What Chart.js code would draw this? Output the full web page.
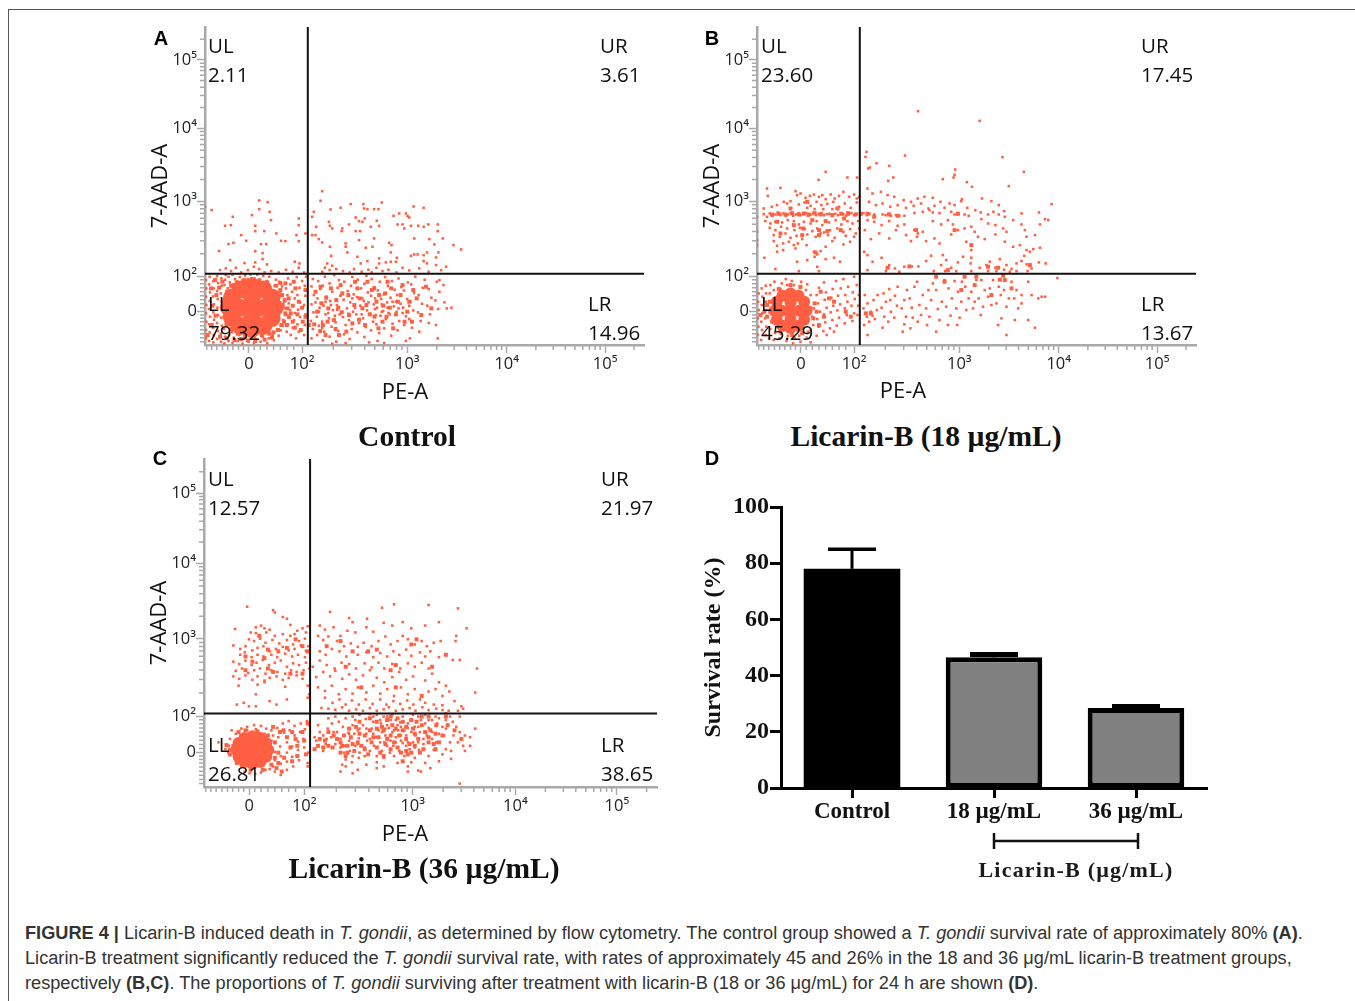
<!DOCTYPE html>
<html>
<head>
<meta charset="utf-8">
<script src="https://cdn.jsdelivr.net/npm/chart.js@4/dist/chart.umd.min.js"></script>
<style>
  html, body { margin: 0; padding: 0; background: #fff; width: 1355px; height: 1001px; overflow: hidden; }
  canvas { position: absolute; }
  .frame { position: absolute; left: 8px; top: 9px; width: 1347px; height: 992px; border-left: 1px solid #555; border-top: 1px solid #555; box-sizing: border-box; }
  .t { position: absolute; white-space: nowrap; transform: translate(-50%, -50%); color: #111; }
  .letter { font: bold 20px "Liberation Sans"; color: #000; }
  .title { font: bold 29.5px "Liberation Serif"; }
  .sub { font: bold 22px "Liberation Serif"; letter-spacing: 1.2px; color: #1a1a1a; }
  .cap { position: absolute; left: 25px; white-space: nowrap; font: 18.18px "Liberation Sans"; color: #333; line-height: 24px; }
</style>
</head>
<body>
<div class="frame"></div>
<canvas id="panelA" style="left:140px;top:15px;width:513px;height:395px"></canvas>
<canvas id="panelB" style="left:692px;top:15px;width:512px;height:395px"></canvas>
<canvas id="panelC" style="left:139px;top:447px;width:526px;height:405px"></canvas>
<canvas id="panelD" style="left:690px;top:490px;width:530px;height:375px"></canvas>

<div class="t letter" style="left:161px;top:38px">A</div>
<div class="t letter" style="left:712px;top:38px">B</div>
<div class="t letter" style="left:160px;top:458px">C</div>
<div class="t letter" style="left:712px;top:458px">D</div>
<div class="t title" style="left:407px;top:436px">Control</div>
<div class="t title" style="left:926px;top:436px">Licarin-B (18 µg/mL)</div>
<div class="t title" style="left:424px;top:868px">Licarin-B (36 µg/mL)</div>
<div class="t sub" style="left:1076px;top:870px">Licarin-B (µg/mL)</div>

<div class="cap" style="top:921px"><b>FIGURE 4 |</b> Licarin-B induced death in <i>T. gondii</i>, as determined by flow cytometry. The control group showed a <i>T. gondii</i> survival rate of approximately 80% <b>(A)</b>.</div>
<div class="cap" style="top:946px">Licarin-B treatment significantly reduced the <i>T. gondii</i> survival rate, with rates of approximately 45 and 26% in the 18 and 36 μg/mL licarin-B treatment groups,</div>
<div class="cap" style="top:971px">respectively <b>(B,C)</b>. The proportions of <i>T. gondii</i> surviving after treatment with licarin-B (18 or 36 μg/mL) for 24 h are shown <b>(D)</b>.</div>

<script>
// axis positions are in instrument channels, the biexponential axes are not log or linear in value
const xTickPos = [131, 290, 604, 901, 1195];
const yTickPos = [101, 206, 431, 651, 856];
const logTickLabels = ['0', '10²', '10³', '10⁴', '10⁵'];
const xMinorPos = [5,20,35,52,68,83,100,115,147,165,185,205,225,245,265,383,438,477,507,532,553,572,588,692,744,781,810,834,854,871,886,988,1040,1076,1105,1128,1148,1165,1180,1281];
const yMinorPos = [10,22,34,46,58,70,80,90,112,124,136,148,160,172,184,196,274,313,341,363,381,396,409,421,497,536,563,585,602,617,630,641,713,749,774,794,810,824,836,846,918];

const quadNames = ['UL', 'UR', 'LL', 'LR'];
const valuesA = ['2.11', '3.61', '79.32', '14.96'];
const valuesB = ['23.60', '17.45', '45.29', '13.67'];
const valuesC = ['12.57', '21.97', '26.81', '38.65'];

// events as flat x,y channel pairs
// core = solid area, clumps = small packed groups, events = single dots
const coreA = [208,112, 199,143, 174,167, 140,175, 106,167, 81,143, 72,112, 81,81, 106,57, 140,49, 174,57, 199,81, 140,112, 105,112, 175,112, 140,80, 140,145];
const clumpsA = [
  232,120, 240,95, 236,70, 228,60, 218,45, 205,38, 230,150, 238,135, 225,165, 212,178, 246,110, 250,85, 244,60, 256,95, 262,70, 262,118, 250,140, 64,60, 58,85, 54,110, 58,135, 66,160, 78,178, 95,188, 118,195, 140,198, 162,194, 186,188, 78,48, 98,34, 120,28, 145,25, 170,30, 192,34, 20,60, 32,88, 22,118, 34,150, 42,172, 268,52, 276,92, 280,130, 290,112, 292,70,
  335,100, 352,60, 362,142, 385,75, 398,112, 428,150, 460,76, 470,110, 492,92, 512,130, 530,70, 538,155, 552,112, 570,92, 584,150, 596,70, 610,130, 622,165, 505,170, 455,170, 345,175, 405,180, 545,190, 485,190,
  326,62, 330,160, 344,42, 348,125, 366,70, 368,110, 376,170, 390,48, 392,135, 408,98, 410,155, 422,40, 430,90, 446,120, 448,190, 462,140, 478,60, 482,120, 498,165, 506,85, 518,50, 520,150, 532,118, 542,85, 556,170, 562,50, 576,130, 590,180, 604,100, 618,70, 632,140, 646,90, 660,175, 676,110, 440,65, 400,30, 360,30, 300,165, 310,60,
  8,30, 18,170, 30,195, 45,25, 52,190, 65,20, 88,14, 108,18, 128,14, 150,12, 178,16, 200,22, 225,186, 240,185, 270,170, 286,45, 300,85, 265,190
];
const eventsA = [
  // upper quadrants
  0,415, 20,405, 162,434, 162,408, 187,429, 193,400, 197,375, 140,390, 83,385, 60,358, 77,360, 150,358, 150,342, 177,342, 213,335, 108,330, 123,313, 227,313, 240,312, 70,303, 85,307, 167,303, 183,303, 42,282, 150,282, 172,276, 280,380, 280,360, 273,330, 300,335, 280,312,
  350,462, 345,433, 325,400, 320,385, 375,407, 405,412, 435,423, 473,423, 475,410, 485,408, 505,408, 518,408, 528,428, 623,416, 653,412, 580,395, 563,388, 600,395, 605,387, 610,383, 450,383, 460,372, 470,370, 477,380, 495,355, 520,358, 513,373, 332,355, 370,370, 373,358, 380,350, 410,350, 430,362, 408,342, 450,342, 463,342, 575,362, 590,362, 595,350, 615,358, 637,358, 653,355, 667,362, 695,362, 695,342, 625,320, 670,318, 710,320, 685,302, 742,300, 765,287, 697,278,
  330,330, 320,330, 340,318, 350,308, 373,295, 420,305, 420,295, 460,315, 505,320, 550,307, 557,300, 480,292, 500,295, 425,278, 555,278, 625,272, 635,272, 615,268, 663,278, 653,270, 377,268, 455,265, 520,260, 573,262, 690,263, 653,252, 663,245, 690,240, 720,235, 705,225, 570,250, 520,245, 540,248, 555,250, 485,252, 465,245, 365,245, 380,238, 350,220, 358,232, 372,225, 392,228, 412,222, 432,218, 445,228, 468,220, 488,226, 498,218, 512,232, 530,222, 548,226, 572,218, 590,232, 610,224, 640,230, 668,220,
  45,225, 62,230, 78,222, 92,232, 108,218, 128,225, 146,235, 162,228, 178,218, 198,222, 220,218, 242,226, 262,220, 280,232, 296,218, 150,248, 172,258, 185,242, 268,250, 282,245, 75,255, 118,246,
  // lower left, around the solid core
  3,20, 3,45, 4,70, 3,95, 4,120, 3,145, 4,170, 3,195, 12,12, 14,38, 12,62, 15,85, 12,108, 14,132, 15,158, 12,182, 14,205, 25,8, 26,30, 24,52, 27,76, 25,98, 27,122, 24,146, 26,170, 25,192, 36,18, 38,42, 36,66, 39,90, 37,112, 38,138, 36,162, 39,186, 36,207, 48,10, 47,34, 50,58, 48,82, 50,130, 47,155, 50,178, 49,200, 58,5, 60,25, 56,48, 58,180, 60,196, 62,210, 70,12, 72,30, 68,170, 74,188, 70,205, 82,6, 86,22, 80,38, 84,182, 90,198, 82,211, 98,12, 102,30, 96,190, 104,204, 112,4, 118,20, 112,195, 120,209, 130,10, 134,26, 128,198, 136,212, 146,6, 152,18, 148,200, 156,211, 166,10, 172,24, 164,196, 174,208, 186,5, 190,20, 184,192, 192,205, 206,14, 202,30, 208,178, 212,196, 220,28, 226,44, 232,58, 224,160, 230,176, 222,190, 234,75, 240,90, 238,110, 236,130, 232,148, 244,40, 248,62, 252,82, 254,105, 250,125, 246,150, 242,170, 256,30, 262,52, 266,74, 268,96, 262,118, 268,140, 260,160, 255,182, 248,200, 272,20, 280,40, 276,62, 284,84, 278,106, 284,128, 276,150, 282,172, 290,192, 274,204, 296,30, 298,60, 300,92, 296,120, 300,148, 298,178, 302,205,
  // lower right
  318,20, 322,48, 316,72, 324,98, 318,122, 325,150, 318,176, 322,198, 335,30, 340,58, 334,85, 342,112, 336,140, 344,168, 338,192, 352,14, 356,40, 350,70, 360,92, 354,118, 362,145, 352,178, 358,205, 372,25, 378,55, 370,80, 382,105, 374,132, 380,160, 372,185, 386,210, 392,10, 398,42, 390,68, 402,92, 394,120, 404,148, 396,172, 400,195, 415,32, 420,60, 412,84, 424,110, 414,136, 426,162, 416,190, 432,18, 438,48, 430,75, 442,100, 434,128, 444,152, 436,178, 440,204, 455,38, 460,66, 452,92, 464,118, 454,144, 466,170, 456,196, 476,24, 480,54, 472,80, 484,104, 474,132, 486,158, 476,184, 482,208,
  496,44, 502,70, 494,94, 504,122, 496,148, 506,174, 498,198, 515,12, 520,36, 512,62, 524,88, 514,112, 526,138, 516,164, 522,190, 535,50, 540,78, 532,102, 544,128, 534,152, 546,178, 538,204, 556,28, 560,64, 552,92, 564,116, 554,142, 566,166, 558,192, 575,44, 580,72, 572,100, 584,124, 574,150, 586,174, 578,200, 595,60, 600,86, 592,112, 604,138, 594,164, 606,188, 612,20, 618,52, 610,78, 622,104, 614,130, 624,156, 616,182, 628,205, 640,40, 644,72, 636,98, 648,124, 638,150, 650,172, 656,196, 668,66, 672,92, 664,118, 676,142, 668,168, 690,60, 696,108, 688,134, 700,160, 692,190, 715,128, 722,110, 700,195, 712,180, 736,112, 695,20, 490,8, 600,12, 420,6, 380,4, 535,6,
  340,100, 346,126, 368,96, 388,88, 410,100, 428,94, 448,112, 468,92, 488,128, 508,108, 528,122, 548,96, 570,130, 590,96, 610,118, 508,140, 528,100, 470,140, 510,90, 522,150, 545,112, 560,130, 578,110, 440,140, 360,130, 330,128, 350,52, 376,120, 395,106
];

const coreB = [148,103, 141,130, 124,148, 100,155, 76,148, 59,130, 52,103, 59,76, 76,58, 100,51, 124,58, 141,76, 100,103, 75,103, 125,103, 100,78, 100,128];
const clumpsB = [
  45,392, 65,394, 85,392, 105,396, 125,392, 140,395, 155,392, 172,396, 190,392, 225,390, 252,394, 272,396, 295,392, 310,394, 330,394, 395,392, 420,388, 600,394, 138,350, 185,345, 210,342, 185,330, 135,330, 175,278, 390,232, 455,236, 570,225, 690,235, 720,232, 815,240, 735,208, 620,205, 725,196, 740,195, 655,205,
  160,110, 168,80, 172,125, 40,100, 45,70, 38,130, 70,40, 105,30, 135,35, 65,168, 100,180, 130,175, 178,100, 185,60, 200,85, 215,140, 265,100, 280,85, 325,95, 340,95, 30,85, 30,120, 22,100,
  60,370, 110,360, 165,375, 205,372, 240,410, 260,380, 70,335, 250,345, 100,410, 150,430, 475,345, 590,345, 640,300, 350,385, 535,205, 560,190, 610,165, 650,180, 700,150, 760,170, 190,160, 230,130, 10,90
];
const eventsB = [
  // sparse top
  481,702, 665,673, 327,580, 324,565, 442,569, 733,564, 797,520, 357,546, 337,533, 332,530, 395,538, 592,527, 590,511, 205,520, 184,496, 270,503, 299,503, 407,503, 392,493, 555,498, 587,503, 627,489, 642,475, 752,477, 880,423, 897,201,
  // band at about 7e2
  20,393, 30,385, 38,395, 46,388, 55,392, 62,398, 70,390, 78,395, 86,388, 92,392, 100,396, 108,388, 116,392, 124,396, 130,390, 138,393, 146,396, 152,388, 160,392, 168,396, 176,390, 184,394, 192,396, 200,390, 208,393, 216,394, 225,392, 234,394, 242,390, 250,396, 258,393, 266,388, 274,392, 282,396, 290,390, 298,394, 308,392, 318,396, 328,390, 336,394, 350,392, 375,392, 384,390, 392,394, 400,388, 415,390, 425,388, 440,388, 470,396, 495,400, 515,405, 525,398, 545,396, 580,400, 590,392, 600,396, 620,392, 632,388,
  // upper left cloud
  30,470, 32,448, 70,472, 115,462, 120,450, 130,455, 145,442, 158,448, 170,452, 185,445, 195,450, 205,438, 220,452, 232,440, 245,448, 258,460, 275,445, 290,452, 298,440, 305,445, 100,432, 90,425, 80,430, 60,420, 125,422, 142,428, 160,418, 178,430, 192,420, 210,424, 228,430, 245,415, 262,425, 280,412, 298,428, 20,410, 44,415, 150,412, 172,408, 198,408, 225,408,
  0,385, 25,372, 40,365, 55,370, 75,368, 92,375, 110,372, 125,362, 140,370, 160,365, 178,372, 195,360, 215,368, 235,375, 252,362, 270,372, 285,365, 302,372,
  38,352, 55,345, 72,355, 90,350, 112,345, 128,352, 142,348, 165,342, 180,350, 200,338, 218,345, 240,350, 258,340, 278,348, 295,335, 305,350, 50,330, 68,325, 85,335, 100,322, 118,328, 135,318, 150,332, 175,325, 190,335, 212,330, 232,322, 265,328, 290,325,
  50,312, 60,298, 78,305, 95,310, 110,300, 122,305, 170,280, 180,272, 190,282, 172,265, 60,280, 78,285, 115,290, 148,300, 205,295, 225,312, 258,302, 278,310, 120,250, 150,255, 180,235, 205,258, 230,262, 248,250, 55,228, 125,222, 185,222, 0,315, 0,340, 0,300, 22,262,
  // upper right
  330,470, 345,455, 370,460, 390,450, 410,445, 438,435, 460,430, 480,440, 500,445, 525,442, 548,430, 575,425, 612,438, 335,430, 355,420, 375,425, 398,415, 420,420, 445,412, 468,418, 490,425, 512,410, 530,418, 560,412, 590,420, 610,432, 628,412, 672,440, 700,432, 722,420, 738,402, 652,405, 668,398, 690,392, 706,400, 722,392, 740,385, 790,395, 842,398, 870,375,
  330,375, 350,370, 372,360, 395,372, 420,358, 440,362, 470,345, 480,335, 495,340, 525,372, 550,362, 570,375, 585,362, 600,345, 620,350, 640,355, 650,340, 670,378, 690,365, 712,360, 735,350, 745,340, 765,375, 790,362, 800,345, 805,325, 322,345, 340,318, 365,335, 395,320, 415,345, 445,330, 460,312, 478,325, 505,312, 530,320, 545,305, 580,332, 625,310, 640,300, 660,325, 680,318, 712,332, 740,310, 765,295, 785,300, 805,285, 830,330, 845,362, 860,378, 825,288, 845,292,
  320,280, 330,270, 345,250, 372,262, 395,240, 412,230, 440,235, 462,236, 482,236, 505,252, 520,268, 555,270, 565,255, 550,240, 580,232, 600,248, 615,265, 640,285, 640,262, 638,245, 665,232, 685,240, 695,250, 712,232, 725,258, 745,240, 760,228, 775,245, 790,252, 805,242, 820,230, 842,248, 862,245, 815,280, 798,268, 330,225, 385,222, 425,220, 528,222, 562,222, 595,222, 640,222, 690,222, 715,222, 738,226, 755,220, 775,222, 808,222,
  // lower left
  2,30, 4,55, 2,80, 5,105, 3,130, 5,155, 12,15, 15,45, 13,70, 16,95, 14,120, 16,145, 14,170, 26,30, 28,55, 24,80, 28,105, 26,130, 27,155, 26,178, 36,20, 40,48, 38,155, 40,180, 50,15, 54,36, 50,165, 52,190, 68,20, 72,34, 70,168, 74,185, 88,12, 92,28, 90,180, 86,198, 108,5, 112,22, 110,180, 104,192, 130,10, 126,28, 128,172, 132,190, 148,22, 152,40, 146,165, 150,182, 160,45, 168,60, 165,85, 170,110, 160,150, 178,28, 184,55, 180,78, 188,100, 182,125, 178,150, 185,172, 198,42, 204,68, 200,92, 208,112, 202,136, 206,158, 200,188, 218,50, 225,75, 220,98, 228,118, 222,142, 226,168, 238,58, 245,82, 240,104, 248,122, 242,148, 250,170, 236,192, 262,65, 268,90, 262,110, 270,130, 264,150, 272,175, 258,198, 285,72, 290,95, 282,118, 292,138, 286,158, 298,180, 290,205, 300,90, 302,118, 304,150, 208,30, 230,40, 160,8,
  // lower right
  320,60, 328,85, 318,110, 330,125, 322,150, 335,70, 345,88, 340,100, 352,78, 358,105, 348,135, 360,150, 330,30, 375,52, 380,85, 372,112, 385,130, 378,155, 392,70, 400,100, 398,135, 395,168, 410,82, 418,118, 412,148, 420,175, 435,40, 440,62, 445,85, 432,110, 440,135, 448,165, 458,50, 465,82, 462,112, 456,140, 470,175, 480,70, 490,90, 485,120, 495,150, 478,190, 508,60, 515,85, 505,110, 520,135, 512,165, 525,185, 535,40, 545,75, 540,108, 552,130, 535,165, 560,195, 570,60, 578,88, 565,115, 582,140, 572,170, 590,192, 598,60, 605,82, 595,110, 610,130, 600,160, 612,190, 625,105, 632,140, 622,175, 645,110, 650,130, 640,160, 655,195, 668,90, 675,115, 662,140, 680,165, 670,195, 690,145, 700,120, 695,170, 705,195, 720,60, 730,80, 715,125, 728,150, 722,175, 745,115, 752,140, 738,165, 760,190, 770,75, 780,110, 768,140, 790,125, 775,165, 745,30, 830,52, 810,75, 840,140, 790,150, 820,150, 850,145, 860,145, 810,190
];

const coreC = [186,108, 180,128, 163,143, 140,148, 117,143, 100,128, 94,108, 100,88, 117,73, 140,68, 163,73, 180,88, 140,108, 115,108, 165,108, 140,88, 140,128, 120,90, 160,90, 120,126, 160,126];
const clumpsC = [
  330,120, 350,135, 372,115, 395,100, 395,130, 415,120, 435,105, 425,145, 445,130, 465,110, 485,130, 465,150, 500,115, 505,145, 480,165, 525,125, 520,165, 540,150, 545,180, 560,115, 565,150, 585,140, 585,175, 600,195, 610,120, 610,155, 630,180, 630,205, 650,130, 655,165, 650,205, 672,180, 690,150, 700,205, 560,200, 540,205, 500,190, 440,175, 410,90, 375,150, 520,90, 590,95, 625,100, 670,110, 575,75,
  230,165, 265,140, 285,160, 215,100, 250,115, 215,70, 255,75, 85,120, 75,108, 65,122, 200,175, 300,185, 225,45,
  120,380, 175,375, 185,400, 240,405, 285,410, 300,395, 120,340, 185,345, 250,330, 355,410, 430,395, 475,395, 555,355, 615,430, 700,385, 455,290, 555,290, 630,265,
  320,110, 335,140, 345,115, 360,120, 385,140, 405,150, 415,100, 430,125, 450,155, 455,120, 475,95, 490,145, 510,100, 515,175, 530,140, 550,130, 555,170, 570,100, 575,165, 595,125, 605,170, 620,140, 635,110, 640,160, 665,125, 670,155, 680,130, 705,180, 725,165, 745,140, 530,195, 575,190, 615,190, 480,200, 450,190, 420,170, 400,120, 360,160, 500,170, 540,110, 585,105, 650,145, 600,100,
  205,130, 220,160, 240,145, 255,160, 270,120, 290,135, 205,85, 232,85, 270,90, 295,95, 210,55, 100,160, 120,165, 155,162, 185,150, 75,95, 95,70, 135,50, 170,50, 195,65,
  160,440, 215,395, 265,430, 140,365, 200,335, 285,330, 395,425, 500,400, 540,340, 600,415, 660,350, 410,350
];
const eventsC = [
  // upper left group
  125,525, 200,515, 228,495, 205,508, 240,490, 90,460, 150,465, 165,470, 175,462, 190,458, 250,472, 285,462, 300,468, 295,450, 270,455, 135,450, 150,448, 180,450, 205,440, 228,445, 250,440, 262,445, 85,412, 130,430, 145,425, 162,432, 178,420, 198,428, 218,418, 240,428, 258,415, 275,425, 292,432, 302,410, 105,402, 120,410, 140,398, 155,405, 172,410, 190,395, 208,402, 228,408, 245,398, 262,402, 280,412, 295,396, 105,385, 118,392, 138,378, 155,385, 172,380, 195,385, 212,378, 235,388, 255,380, 272,385, 292,378, 85,365, 102,358, 120,368, 138,355, 152,362, 170,370, 188,355, 205,362, 222,368, 240,350, 258,360, 275,355, 295,362, 305,345,
  92,338, 110,345, 128,332, 145,340, 162,345, 178,330, 195,340, 212,335, 235,330, 252,340, 268,335, 288,340, 85,322, 102,315, 120,325, 140,312, 155,322, 175,310, 190,318, 210,322, 228,312, 245,318, 268,325, 285,315, 100,295, 155,298, 175,305, 235,292, 95,240, 150,270, 300,295, 305,270, 300,260, 240,255, 190,250, 210,240, 115,245, 130,235, 150,235,
  // upper right group
  365,510, 420,492, 430,480, 472,490, 515,522, 550,532, 650,530, 735,520, 335,470, 350,458, 375,465, 395,440, 415,455, 438,450, 470,465, 490,452, 520,478, 545,470, 575,480, 600,462, 640,470, 680,480, 760,462, 730,440, 728,425, 330,440, 345,428, 360,438, 385,425, 405,410, 425,418, 445,408, 462,420, 485,410, 505,425, 525,438, 540,415, 560,425, 575,440, 590,430, 610,415, 630,425, 645,410, 665,420, 685,425, 335,395, 352,385, 370,402, 392,395, 412,380, 430,395, 445,385, 470,392, 490,378, 510,390, 530,380, 548,395, 565,385, 585,400, 600,382, 625,392, 640,380, 655,395, 680,378, 720,370, 740,370, 790,345, 315,350, 335,368, 355,355, 378,345, 398,362, 420,358, 440,345, 465,360, 485,348, 505,362, 522,345, 545,358, 568,345, 590,360, 610,350, 630,362, 650,345,
  325,320, 345,335, 365,322, 380,338, 400,315, 420,328, 440,312, 460,325, 480,340, 500,318, 522,305, 545,320, 565,335, 585,312, 605,322, 640,310, 660,330, 680,305, 700,295, 330,290, 350,280, 370,295, 390,270, 410,285, 430,272, 445,290, 470,275, 490,295, 510,272, 530,285, 550,265, 570,290, 590,270, 610,285, 630,265, 650,278, 670,285, 690,265, 710,278, 785,275, 350,260, 372,245, 392,255, 410,240, 428,252, 448,240, 468,255, 488,242, 510,255, 528,240, 548,250, 568,242, 588,252, 606,240, 625,255, 640,245, 665,240, 690,238, 725,250, 750,228, 735,222,
  340,230, 360,228, 380,225, 400,232, 420,222, 440,226, 460,222, 480,230, 500,222, 520,226, 535,232, 555,222, 575,226, 595,230, 612,222, 632,232, 650,224, 672,228, 690,224, 708,222,
  // lower left
  42,130, 62,110, 80,165, 92,155, 98,135, 82,112, 90,90, 95,68, 108,60, 118,45, 132,40, 148,38, 165,42, 178,50, 190,52, 205,45, 222,35, 108,170, 125,175, 145,180, 165,178, 180,170, 195,165, 212,172, 228,185, 245,192, 262,178, 280,185, 298,192, 200,150, 215,145, 232,158, 248,165, 262,150, 278,160, 292,168, 305,180, 205,128, 220,118, 240,130, 255,118, 272,132, 288,140, 205,102, 222,90, 240,100, 255,88, 272,108, 290,115, 302,100, 205,78, 222,68, 240,74, 258,60, 275,78, 300,70, 300,60, 200,60, 240,50, 105,150, 75,140, 72,120, 125,165, 150,168, 175,155, 190,85, 190,115, 195,135, 70,100,
  // lower right, dense
  320,145, 335,160, 325,135, 345,150, 358,170, 370,185, 352,125, 368,145, 385,160, 380,125, 395,140, 402,175, 390,190, 408,120, 420,135, 418,158, 430,180, 438,195, 405,100, 422,105, 438,120, 448,142, 445,165, 460,180, 468,198, 450,100, 465,115, 472,135, 470,155, 485,170, 490,190, 410,80, 428,72, 448,85, 465,90, 480,105, 492,120, 498,145, 505,165, 512,185, 520,205, 500,90, 515,105, 522,130, 525,150, 535,172, 540,195, 545,210, 520,85, 538,100, 548,120, 555,145, 562,165, 568,188, 575,205, 550,90, 565,105, 575,128, 585,150, 590,172, 598,195, 605,210, 580,90, 595,110, 605,130, 612,150, 620,175, 628,195, 640,210, 610,85, 622,108, 635,125, 645,150, 650,172, 660,195, 670,205, 650,90, 665,108, 672,130, 680,155, 690,175, 700,195, 712,205, 700,110, 712,130, 722,150, 730,175, 680,75, 640,70, 600,72, 560,70, 500,72, 470,65, 430,90, 445,50, 500,55, 520,60, 410,60, 400,65, 345,105, 330,180, 360,200, 380,205, 410,200, 430,205, 450,210, 480,212, 500,210, 530,180, 550,165, 570,150, 590,130, 610,115, 625,160, 640,185, 660,160, 675,185, 695,150, 660,140, 540,135, 510,130, 480,140, 445,125, 420,155, 395,115, 375,160, 355,140,
  515,160, 525,170, 545,160, 560,180, 580,165, 600,160, 620,130, 635,140, 585,120, 570,135, 555,130, 530,120, 490,155, 470,170, 450,170, 435,155, 610,175, 590,185, 570,175, 555,195, 530,205, 510,195, 490,205, 620,205, 650,195, 680,200, 700,170, 720,190, 740,160, 755,150, 770,145, 750,120, 735,130, 785,170, 755,105, 770,120, 715,105, 690,95, 715,82, 740,205, 700,215, 745,235, 395,45, 430,40, 590,45, 590,60, 620,48, 655,55, 740,10, 628,45
];

const survivalLabels = ['Control', '18 µg/mL', '36 µg/mL'];
const survivalRate = [78, 46.5, 28.5];
const survivalErrTop = [85, 47.5, 29];
const survivalTicks = [0, 20, 40, 60, 80, 100];

const quadX = 307, quadY = 214;
const axisGrey = '#a9a9a9', dotColor = '#ff5f42';
const sansFont = "'Open Sans'";

function pairs(flat) {
  const out = [];
  for (let i = 0; i < flat.length; i += 2) out.push({ x: flat[i], y: flat[i + 1] });
  return out;
}

// long ticks come from the scale, the small ones between decades from here
const minorTicks = {
  id: 'minorTicks',
  afterDraw(chart) {
    const { ctx, chartArea: a, scales: { x, y } } = chart;
    ctx.save();
    ctx.strokeStyle = axisGrey;
    ctx.lineWidth = 1.5;
    ctx.beginPath();
    xMinorPos.forEach(v => { const p = x.getPixelForValue(v); ctx.moveTo(p, a.bottom); ctx.lineTo(p, a.bottom + 5); });
    yMinorPos.forEach(v => { const p = y.getPixelForValue(v); ctx.moveTo(a.left, p); ctx.lineTo(a.left - 5, p); });
    ctx.stroke();
    ctx.restore();
  }
};

// quadrant names and percentages plus the x axis title
const panelText = {
  id: 'panelText',
  afterDatasetsDraw(chart, args, o) {
    const { ctx, chartArea: a } = chart;
    ctx.save();
    ctx.fillStyle = '#111';
    ctx.font = "20.5px " + sansFont;
    ctx.textBaseline = 'middle';
    o.values.forEach((val, i) => {
      const px = a.left + o.xs[i];
      ctx.fillText(quadNames[i], px, a.top + o.ys[i]);
      ctx.fillText(val, px, a.top + o.ys[i] + o.gap);
    });
    ctx.textAlign = 'center';
    ctx.font = "22px " + sansFont;
    ctx.fillText('PE-A', a.left + o.titleX, a.bottom + o.titleDrop);
    ctx.restore();
  }
};

function flowPanel(id, core, clumps, events, values, textPos, coreRadius, size) {
  const canvas = document.getElementById(id);
  canvas.width = size[0]; canvas.height = size[1];
  new Chart(canvas, {
    type: 'scatter',
    data: {
      datasets: [
        { data: [{ x: quadX, y: 0 }, { x: quadX, y: 955 }], showLine: true, borderColor: '#111', borderWidth: 2, pointRadius: 0, order: 0 },
        { data: [{ x: 0, y: quadY }, { x: 1311, y: quadY }], showLine: true, borderColor: '#111', borderWidth: 2, pointRadius: 0, order: 0 },
        { data: pairs(events), pointStyle: 'rect', pointRadius: 1.8, borderWidth: 0, backgroundColor: dotColor, order: 1 },
        { data: pairs(clumps), pointStyle: 'rect', pointRadius: 2.8, borderWidth: 0, backgroundColor: dotColor, order: 2 },
        { data: pairs(core), pointStyle: 'circle', pointRadius: coreRadius, borderWidth: 0, backgroundColor: dotColor, order: 3 }
      ]
    },
    options: {
      responsive: false, animation: false,
      layout: { padding: { top: 12, right: 8 } },
      plugins: { legend: { display: false }, tooltip: { enabled: false }, panelText: Object.assign({ values }, textPos) },
      scales: {
        x: {
          type: 'linear', min: 0, max: 1311,
          border: { color: axisGrey, width: 2.5 },
          grid: { drawOnChartArea: false, tickLength: 8, tickColor: axisGrey, tickWidth: 1.5 },
          ticks: {
            autoSkip: false, maxRotation: 0, padding: 1, color: '#222', font: { family: sansFont, size: 16.5 },
            callback: v => logTickLabels[xTickPos.indexOf(v)]
          },
          afterBuildTicks: axis => { axis.ticks = xTickPos.map(value => ({ value })); },
          afterFit: axis => { axis.height = 65; }
        },
        y: {
          type: 'linear', min: 0, max: 955,
          border: { color: axisGrey, width: 2.5 },
          grid: { drawOnChartArea: false, tickLength: 8, tickColor: axisGrey, tickWidth: 1.5 },
          title: { display: true, text: '7-AAD-A', color: '#111', font: { family: sansFont, size: 22 }, padding: { top: 8, bottom: 0 } },
          ticks: {
            autoSkip: false, padding: 0, color: '#222', font: { family: sansFont, size: 16.5 },
            callback: v => logTickLabels[yTickPos.indexOf(v)]
          },
          afterBuildTicks: axis => { axis.ticks = yTickPos.map(value => ({ value })); },
          afterFit: axis => { axis.width = 65; }
        }
      }
    },
    plugins: [minorTicks, panelText]
  });
}

flowPanel('panelA', coreA, clumpsA, eventsA, valuesA, { xs: [3, 395, 3, 383], ys: [20, 20, 278, 278], gap: 29, titleX: 200, titleDrop: 48 }, 9, [513, 395]);
flowPanel('panelB', coreB, clumpsB, eventsB, valuesB, { xs: [4, 384, 4, 384], ys: [20, 20, 278, 278], gap: 29, titleX: 146, titleDrop: 47 }, 6, [512, 395]);
flowPanel('panelC', coreC, clumpsC, eventsC, valuesC, { xs: [4, 397, 4, 397], ys: [21, 21, 287, 287], gap: 29, titleX: 201, titleDrop: 48 }, 6, [526, 405]);

// error bars and the bracket under the two treatment groups
const barExtras = {
  id: 'barExtras',
  afterDatasetsDraw(chart) {
    const { ctx, scales: { x, y } } = chart;
    ctx.save();
    ctx.strokeStyle = '#000';
    survivalErrTop.forEach((top, i) => {
      const px = x.getPixelForValue(i);
      ctx.lineWidth = 3;
      ctx.beginPath(); ctx.moveTo(px, y.getPixelForValue(survivalRate[i])); ctx.lineTo(px, y.getPixelForValue(top)); ctx.stroke();
      ctx.lineWidth = i === 0 ? 3.5 : 5;
      ctx.beginPath(); ctx.moveTo(px - 24, y.getPixelForValue(top)); ctx.lineTo(px + 24, y.getPixelForValue(top)); ctx.stroke();
    });
    ctx.restore();
  },
  afterDraw(chart) {
    const { ctx, chartArea: a, scales: { x } } = chart;
    const l = x.getPixelForValue(1), r = x.getPixelForValue(2) + 2, yy = a.bottom + 53;
    ctx.save();
    ctx.strokeStyle = '#111';
    ctx.lineWidth = 2.5;
    ctx.beginPath();
    ctx.moveTo(l, yy); ctx.lineTo(r, yy);
    ctx.moveTo(l, yy - 8); ctx.lineTo(l, yy + 8);
    ctx.moveTo(r, yy - 8); ctx.lineTo(r, yy + 8);
    ctx.stroke();
    ctx.restore();
  }
};

const canvasD = document.getElementById('panelD');
canvasD.width = 530; canvasD.height = 375;
new Chart(canvasD, {
  type: 'bar',
  data: {
    labels: survivalLabels,
    datasets: [{
      data: survivalRate,
      backgroundColor: ['#000', '#808080', '#808080'],
      borderColor: '#000', borderWidth: [0, 5, 5], borderSkipped: false,
      categoryPercentage: 1, barPercentage: 0.68
    }]
  },
  options: {
    responsive: false, animation: false,
    layout: { padding: { top: 17, right: 13 } },
    plugins: { legend: { display: false }, tooltip: { enabled: false } },
    scales: {
      x: {
        border: { color: '#000', width: 3 },
        grid: { offset: false, drawOnChartArea: false, tickLength: 10, tickColor: '#000', tickWidth: 3 },
        ticks: { padding: 0, color: '#111', maxRotation: 0, font: { family: "'Liberation Serif'", weight: 'bold', size: 23 } },
        afterFit: axis => { axis.height = 77; }
      },
      y: {
        min: 0, max: 100,
        border: { color: '#000', width: 3 },
        grid: { drawOnChartArea: false, tickLength: 11, tickColor: '#000', tickWidth: 3 },
        title: { display: true, text: 'Survival rate (%)', color: '#111', font: { family: "'Liberation Serif'", weight: 'bold', size: 24 }, padding: { top: 9, bottom: 0 } },
        ticks: { padding: 1, color: '#111', font: { family: "'Liberation Serif'", weight: 'bold', size: 24 } },
        afterBuildTicks: axis => { axis.ticks = survivalTicks.map(value => ({ value })); },
        afterFit: axis => { axis.width = 91; }
      }
    }
  },
  plugins: [barExtras]
});
</script>
</body>
</html>
